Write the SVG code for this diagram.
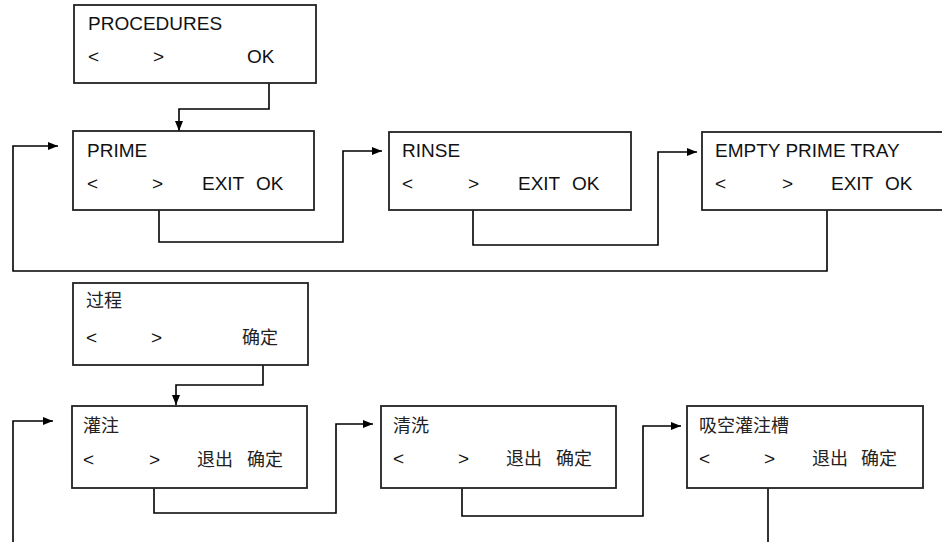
<svg xmlns="http://www.w3.org/2000/svg" width="942" height="542" viewBox="0 0 942 542">
<style>
.box{fill:#fff;stroke:#222;stroke-width:1.8}
.t{font-family:"Liberation Sans",Arial,sans-serif;font-size:19px;fill:#111}
.c{font-family:"Liberation Sans","Noto Sans CJK SC",sans-serif;font-size:18px;fill:#222}
.ln{fill:none;stroke:#000;stroke-width:1.6}
</style>
<defs>
<marker id="ah" markerWidth="10" markerHeight="8" refX="10" refY="4" orient="auto" markerUnits="userSpaceOnUse">
<path d="M0,0 L10,4 L0,8 Z" fill="#000"/>
</marker>
</defs>
<rect width="942" height="542" fill="#fff"/>
<g id="connectors">
<polyline class="ln" points="269,83 269,109 179,109 179,131" marker-end="url(#ah)"/>
<polyline class="ln" points="159,210 159,242 343,242 343,151 382,151" marker-end="url(#ah)"/>
<polyline class="ln" points="473,210 473,245 658,245 658,152 697,152" marker-end="url(#ah)"/>
<polyline class="ln" points="827,207 827,271 13,271 13,146 58,146" marker-end="url(#ah)"/>
<polyline class="ln" points="263,365 263,385 176,385 176,405" marker-end="url(#ah)"/>
<polyline class="ln" points="154,486 154,513 336,513 336,424 373,424" marker-end="url(#ah)"/>
<polyline class="ln" points="462,485 462,516 643,516 643,426 681,426" marker-end="url(#ah)"/>
<polyline class="ln" points="768,480 768,545"/>
<polyline class="ln" points="13,545 13,421 53,421" marker-end="url(#ah)"/>
</g>
<g id="procedures">
<rect class="box" x="74" y="5" width="242" height="78"/>
<text class="t" x="88" y="30">PROCEDURES</text>
<text class="t" x="88" y="63">&lt;</text>
<text class="t" x="153" y="63">&gt;</text>
<text class="t" x="247" y="63">OK</text>
</g>
<g id="prime">
<rect class="box" x="73" y="131" width="241" height="79"/>
<text class="t" x="87" y="157">PRIME</text>
<text class="t" x="87" y="190">&lt;</text>
<text class="t" x="152" y="190">&gt;</text>
<text class="t" x="202" y="190">EXIT</text>
<text class="t" x="256" y="190">OK</text>
</g>
<g id="rinse">
<rect class="box" x="389" y="132" width="242" height="78"/>
<text class="t" x="402" y="157">RINSE</text>
<text class="t" x="402" y="190">&lt;</text>
<text class="t" x="468" y="190">&gt;</text>
<text class="t" x="518" y="190">EXIT</text>
<text class="t" x="572" y="190">OK</text>
</g>
<g id="empty">
<rect class="box" x="702" y="132" width="250" height="78"/>
<text class="t" x="715" y="157">EMPTY PRIME TRAY</text>
<text class="t" x="715" y="190">&lt;</text>
<text class="t" x="782" y="190">&gt;</text>
<text class="t" x="831" y="190">EXIT</text>
<text class="t" x="885" y="190">OK</text>
</g>
<g id="guocheng">
<rect class="box" x="73" y="283" width="235" height="82"/>
<text class="c" x="86" y="307">过程</text>
<text class="t" x="86" y="344">&lt;</text>
<text class="t" x="151" y="344">&gt;</text>
<text class="c" x="242" y="344">确定</text>
</g>
<g id="guanzhu">
<rect class="box" x="72" y="406" width="235" height="82"/>
<text class="c" x="83" y="432">灌注</text>
<text class="t" x="83" y="466">&lt;</text>
<text class="t" x="149" y="466">&gt;</text>
<text class="c" x="197" y="466">退出</text>
<text class="c" x="247" y="466">确定</text>
</g>
<g id="qingxi">
<rect class="box" x="381" y="406" width="235" height="82"/>
<text class="c" x="393" y="432">清洗</text>
<text class="t" x="393" y="465">&lt;</text>
<text class="t" x="458" y="465">&gt;</text>
<text class="c" x="506" y="465">退出</text>
<text class="c" x="556" y="465">确定</text>
</g>
<g id="xikong">
<rect class="box" x="687" y="406" width="236" height="82"/>
<text class="c" x="699" y="432">吸空灌注槽</text>
<text class="t" x="699" y="465">&lt;</text>
<text class="t" x="764" y="465">&gt;</text>
<text class="c" x="812" y="465">退出</text>
<text class="c" x="861" y="465">确定</text>
</g>
</svg>
